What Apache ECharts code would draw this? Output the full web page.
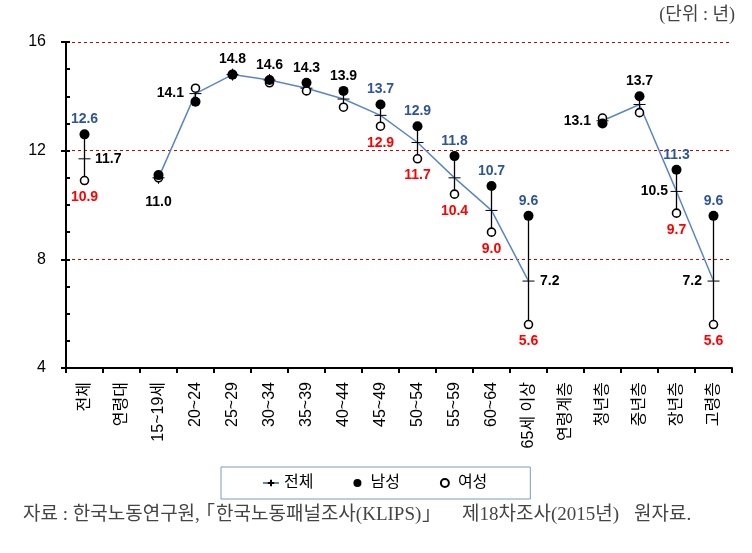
<!DOCTYPE html>
<html><head><meta charset="utf-8">
<script src="https://cdn.jsdelivr.net/npm/echarts@6/dist/echarts.min.js"></script>
<style>html,body{margin:0;padding:0;background:#fff}#c{width:752px;height:553px}</style>
</head><body><div id="c"></div>
<script>
const categories = ['전체','연령대','15~19세','20~24','25~29','30~34','35~39','40~44','45~49','50~54','55~59','60~64','65세 이상','연령계층','청년층','중년층','장년층','고령층'];
const totalValues  = [11.7, null, 11.0, 14.1, 14.8, 14.6, 14.3, 13.9, 13.3, 12.3, 11.0, 9.8, 7.2, null, 13.1, 13.7, 10.5, 7.2];
const maleValues   = [12.6, null, 11.1, 13.8, 14.8, 14.6, 14.5, 14.2, 13.7, 12.9, 11.8, 10.7, 9.6, null, 13.0, 14.0, 11.3, 9.6];
const femaleValues = [10.9, null, 11.0, 14.3, 14.8, 14.5, 14.2, 13.6, 12.9, 11.7, 10.4, 9.0, 5.6, null, 13.2, 13.4, 9.7, 5.6];
const yTicks = [4, 8, 12, 16];
const unitText = '(단위 : 년)';
const sourceParts = ['자료 : 한국노동연구원,', '「', '한국노동패널조사(KLIPS)', '」', '제18차조사(2015년)', '원자료.'];

// label styling plan (which labels are shown where)
const BLUE = '#2F5597', RED = '#FF0000';
const maleBlueIdx = [0, 8, 9, 10, 11, 12, 16, 17];
const maleTotalIdx = [4, 5, 6, 7, 15];
const femaleRedIdx = [0, 8, 9, 10, 11, 12, 16, 17];
const totalLabelPos = {0: ['right', 4], 2: ['bottom', 11], 3: ['left', 5], 12: ['right', 5], 14: ['left', 5], 16: ['left', 2], 17: ['left', 5]};
const numFont = {fontFamily: 'Liberation Sans, Arial, sans-serif', fontWeight: 'bold', fontSize: 14};
const KR = 'Liberation Sans, "Noto Sans CJK KR", sans-serif';
const SERIF = 'Liberation Serif, "Noto Sans CJK KR", serif';
const fmt = v => v.toFixed(1);

const maleData = maleValues.map((v, i) => {
  if (v == null) return null;
  if (maleBlueIdx.includes(i)) return {value: v, label: Object.assign({show: true, position: 'top', distance: 3, color: BLUE, formatter: fmt(v)}, numFont)};
  if (maleTotalIdx.includes(i)) return {value: v, label: Object.assign({show: true, position: 'top', distance: 3, color: '#000', formatter: fmt(totalValues[i])}, numFont)};
  return v;
});
const femaleData = femaleValues.map((v, i) => {
  if (v == null) return null;
  if (femaleRedIdx.includes(i)) return {value: v, label: Object.assign({show: true, position: 'bottom', distance: 5, color: RED, formatter: fmt(v)}, numFont)};
  return v;
});
const totalData = totalValues.map((v, i) => {
  if (v == null) return null;
  const p = totalLabelPos[i];
  if (p) return {value: v, label: Object.assign({show: true, position: p[0], distance: p[1], color: '#000', formatter: fmt(v)}, numFont)};
  return v;
});
const barData = [];
maleValues.forEach((m, i) => { if (m != null && femaleValues[i] != null) barData.push([i, femaleValues[i], m]); });

const sourceLefts = [23, 196, 216, 422, 462, 634];
const chart = echarts.init(document.getElementById('c'));
chart.setOption({
  animation: false,
  backgroundColor: '#fff',
  grid: {left: 66, right: 20, top: 42, bottom: 185},
  xAxis: {
    type: 'category', data: categories, boundaryGap: true,
    axisLine: {lineStyle: {color: '#000', width: 2}},
    axisTick: {show: true, length: 5, alignWithLabel: false, lineStyle: {color: '#000', width: 2}},
    axisLabel: {rotate: 90, interval: 0, fontSize: 16, color: '#000', margin: 14, fontFamily: KR},
    splitLine: {show: false}
  },
  yAxis: [{
    type: 'value', min: 4, max: 16, interval: 4,
    axisLine: {show: true, lineStyle: {color: '#000', width: 2}},
    axisTick: {show: true, length: 5, lineStyle: {color: '#000', width: 2}},
    axisLabel: {fontSize: 16, color: '#000', margin: 20, fontFamily: 'Liberation Sans, Arial, sans-serif',
      formatter: v => yTicks.includes(v) ? String(v) : ''},
    splitLine: {show: true, lineStyle: {color: '#D00000', type: [3, 3], width: 1}}
  }, {
    type: 'value', min: 4, max: 16, interval: 1, position: 'left',
    axisLine: {show: false},
    axisTick: {show: true, inside: true, length: 4, lineStyle: {color: '#000', width: 2}},
    axisLabel: {show: false}, splitLine: {show: false}
  }],
  legend: {
    data: ['전체', '남성', '여성'],
    left: 221, top: 467, orient: 'horizontal',
    padding: [8, 43, 8, 41], itemGap: 40, itemWidth: 16, itemHeight: 8,
    borderColor: '#7A9AC8', borderWidth: 1,
    textStyle: {fontSize: 16, color: '#000', fontFamily: KR}
  },
  series: [
    {
      type: 'custom', name: 'range', z: 1, silent: true,
      data: barData, encode: {x: 0, y: [1, 2]},
      renderItem: (params, api) => {
        const a = api.coord([api.value(0), api.value(1)]);
        const b = api.coord([api.value(0), api.value(2)]);
        return {type: 'line', shape: {x1: a[0], y1: a[1], x2: b[0], y2: b[1]}, style: {stroke: '#000', lineWidth: 1.3}};
      }
    },
    {
      type: 'line', name: '전체', z: 2, data: totalData, connectNulls: false,
      symbol: 'path://M0,6H12M6,0V12', symbolSize: [12, 12], showAllSymbol: true,
      itemStyle: {color: 'rgba(0,0,0,0)', borderColor: '#000', borderWidth: 1},
      lineStyle: {color: '#5B86C5', width: 1.5}
    },
    {
      type: 'scatter', name: '여성', z: 3, data: femaleData, symbol: 'circle', symbolSize: 8,
      itemStyle: {color: '#fff', borderColor: '#000', borderWidth: 1.6, opacity: 1}
    },
    {
      type: 'scatter', name: '남성', z: 4, data: maleData, symbol: 'circle', symbolSize: 10,
      itemStyle: {color: '#000', opacity: 1}
    }
  ],
  graphic: [
    {type: 'text', right: 17, top: 6, style: {text: unitText, fontSize: 18, fill: '#444', fontFamily: SERIF}}
  ].concat(sourceParts.map((t, k) => ({
    type: 'text', left: sourceLefts[k], top: 506, style: {text: t, fontSize: 19, fill: '#444', fontFamily: SERIF}
  })))
});
</script></body></html>
